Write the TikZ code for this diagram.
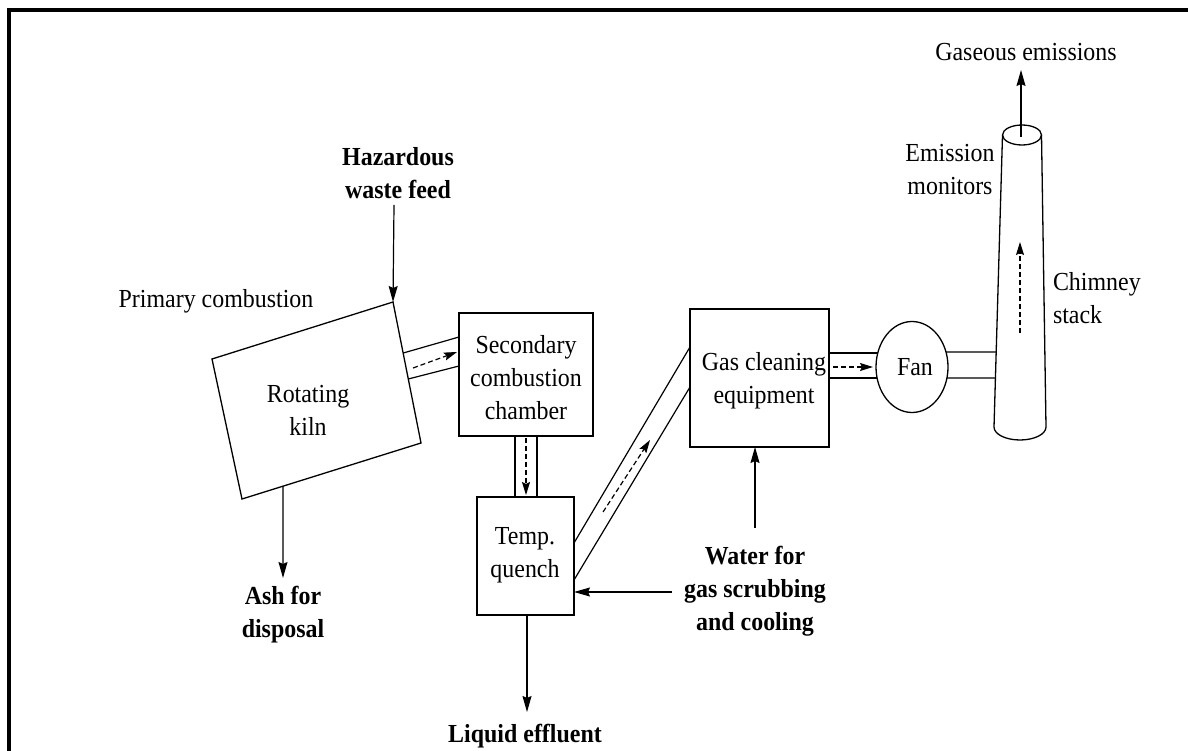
\documentclass[tikz,border=0pt]{standalone}
\usepackage{fontspec}
\setmainfont[FakeStretch=0.92]{Liberation Serif}
\usetikzlibrary{arrows.meta,shapes.geometric,calc}
\begin{document}
\begin{tikzpicture}[x=1pt,y=-1pt,
  every node/.style={inner sep=0pt,outer sep=0pt},
  txt/.style={font=\fontsize{26}{33}\selectfont,align=center},
  btxt/.style={font=\fontsize{26}{33}\selectfont\bfseries,align=center},
  unit/.style={draw,line width=1.3pt,rectangle},
  duct/.style={line width=1.2pt},
  flow/.style={line width=1.2pt,-{Stealth[length=16pt,width=9pt,inset=2pt]}},
  gasflow/.style={line width=1.2pt,dash pattern=on 5pt off 3pt,-{Stealth[length=13pt,width=8pt,inset=2pt]}}]
\useasboundingbox (0,0) rectangle (1188,751);
\fill[white] (0,0) rectangle (1188,751);
% frame
\draw[line width=4pt] (9,751) -- (9,10.5) -- (1188,10.5);

% rotating kiln (skewed quadrilateral)
\coordinate (kTL) at (212,359);
\coordinate (kTR) at (393,302);
\coordinate (kBR) at (421,443);
\coordinate (kBL) at (242,499);
\draw[line width=1.3pt] (kTL) -- (kTR) -- (kBR) -- (kBL) -- cycle;
\node[txt] (kiln) at (308,410) {Rotating\\kiln};
\node[txt] (primary) at (216,301) {Primary combustion};

% units
\node[unit,minimum width=134pt,minimum height=123pt] (sec) at (526,374.5) {};
\node[txt] (sectxt) at (526,378) {Secondary\\combustion\\chamber};
\node[unit,minimum width=97pt,minimum height=118pt] (quench) at (525.5,556) {};
\node[txt] (quenchtxt) at (525,555) {Temp.\\quench};
\node[unit,minimum width=139pt,minimum height=138pt] (gce) at (759.5,378) {};
\node[txt] (gcetxt) at (764,381) {Gas cleaning\\equipment};
\node[draw,line width=1.3pt,ellipse,minimum width=72pt,minimum height=91pt] (fan) at (912,367) {};
\node[txt] (fantxt) at (915,367) {Fan};

% chimney stack
\coordinate (cTL) at (1002.5,135);
\coordinate (cTR) at (1041.5,135);
\coordinate (cBL) at (994,427);
\coordinate (cBR) at (1046,427);
\coordinate (ctop) at (1022,135);
\draw[line width=1.3pt] (ctop) ellipse [x radius=19.5pt, y radius=10pt];
\draw[line width=1.3pt] (cTL) -- (cBL) arc[start angle=180, end angle=360, x radius=26pt, y radius=13pt] -- (cTR);

% labels
\node[btxt] (haz) at (398,173) {Hazardous\\waste feed};
\node[btxt] (ash) at (283,615) {Ash for\\disposal};
\node[btxt] (water) at (755,591) {Water for\\gas scrubbing\\and cooling};
\node[btxt] (liquid) at (525,736) {Liquid effluent};
\node[txt] (gas) at (1026,52) {Gaseous emissions};
\node[txt] (monitors) at (950,170) {Emission\\monitors};
\node[txt,align=left,anchor=west] (stack) at (1053,298) {Chimney\\stack};

% feed and discharge arrows
\coordinate (hazS) at (394,205);
\draw[flow] (hazS) -- (kTR);
\coordinate (ashS) at ($(kBL)!0.229!(kBR)$);
\coordinate (ashE) at (283,578);
\draw[flow] (ashS) -- (ashE);
\coordinate (waterTop) at (755,528);
\draw[flow] (waterTop) -- (gce.south -| waterTop);
\coordinate (waterL) at (672,592);
\draw[flow] (waterL) -- (quench.east |- waterL);
\coordinate (liqE) at (527,712);
\draw[flow] (quench.south -| liqE) -- (liqE);
\coordinate (gasS) at (1021,137);
\coordinate (gasE) at (1021,70);
\draw[flow] (gasS) -- (gasE);

% duct kiln -> secondary
\draw[duct] ($(kTR)!0.362!(kBR)$) -- (459,337);
\draw[duct] ($(kTR)!0.546!(kBR)$) -- (459,366);
\coordinate (g1s) at (413,368);
\coordinate (g1e) at (457,352);
\draw[gasflow] (g1s) -- (g1e);

% duct secondary -> quench
\draw[duct] (515,436) -- (515,497);
\draw[duct] (537,436) -- (537,497);
\coordinate (g2s) at (526,438);
\coordinate (g2e) at (526,495);
\draw[gasflow] (g2s) -- (g2e);

% duct quench -> gas cleaning
\draw[duct] (574,543) -- (690,347);
\draw[duct] (574,580) -- (690,387);
\coordinate (g3s) at (603,512);
\coordinate (g3e) at (650,440);
\draw[gasflow] (g3s) -- (g3e);

% duct gas cleaning -> fan
\draw[duct] (829,353) -- (878,353);
\draw[duct] (829,378) -- (877,378);
\coordinate (g4s) at (833,367);
\coordinate (g4e) at (873,367);
\draw[gasflow] (g4s) -- (g4e);

% duct fan -> chimney
\draw[duct] (946,352) -- ($(cTL)!0.743!(cBL)$);
\draw[duct] (947,378) -- ($(cTL)!0.832!(cBL)$);

% flow up the chimney
\coordinate (g5s) at (1020,333);
\coordinate (g5e) at (1020,242);
\draw[gasflow] (g5s) -- (g5e);
\end{tikzpicture}
\end{document}
